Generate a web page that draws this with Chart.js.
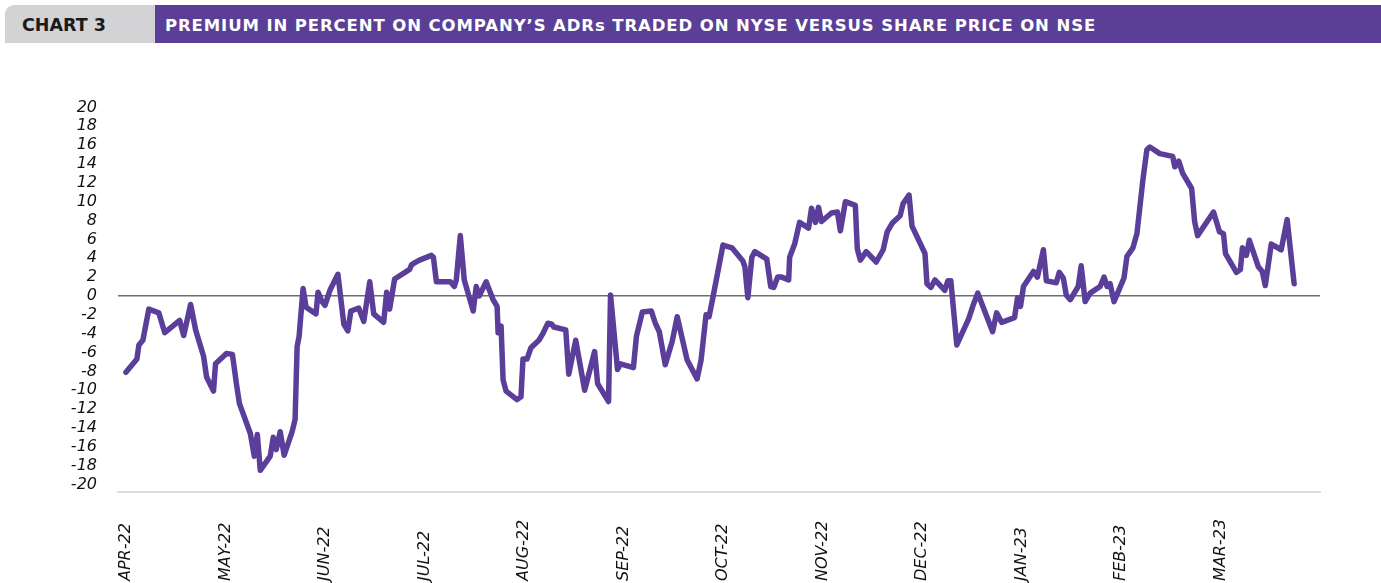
<!DOCTYPE html>
<html>
<head>
<meta charset="utf-8">
<script src="https://cdn.jsdelivr.net/npm/chart.js@4"></script>
<style>
  body { margin: 0; background: #fff; width: 1381px; height: 583px; overflow: hidden; position: relative; }
  .tag {
    position: absolute; left: 5px; top: 5px; width: 150px; height: 38px;
    background: #d3d3d5; border-top-left-radius: 9px;
    font: bold 17.5px "DejaVu Sans", sans-serif; color: #1a1a1a;
    line-height: 41px; box-sizing: border-box; padding-left: 17px;
  }
  .title {
    position: absolute; left: 155px; top: 5px; right: 0; height: 38px;
    background: #5b3f97; color: #fff;
    font: bold 16.5px "DejaVu Sans", sans-serif; letter-spacing: 0.9px;
    line-height: 41px; box-sizing: border-box; padding-left: 10px; white-space: nowrap;
  }
  #chart { position: absolute; left: 0; top: 50px; }
</style>
</head>
<body>
<div class="tag">CHART 3</div>
<div class="title">PREMIUM IN PERCENT ON COMPANY’S ADRs TRADED ON NYSE VERSUS SHARE PRICE ON NSE</div>
<canvas id="chart" width="1381" height="533"></canvas>
<script>
// Monatslabels der x-Achse
const months = ['APR-22', 'MAY-22', 'JUN-22', 'JUL-22', 'AUG-22', 'SEP-22',
                'OCT-22', 'NOV-22', 'DEC-22', 'JAN-23', 'FEB-23', 'MAR-23'];

// Zeitpunkt in Monaten ab Anfang April 2022
const monthPos = [
    0.00, 0.11, 0.13, 0.17, 0.23, 0.33, 0.39, 0.54, 0.58, 0.65, 0.70, 0.78, 0.81, 0.88, 0.90,
    1.01, 1.07, 1.11, 1.14, 1.25, 1.29, 1.32, 1.35, 1.45, 1.48, 1.51, 1.55, 1.59, 1.67, 1.70,
    1.72, 1.74, 1.78, 1.81, 1.91, 1.93, 1.97, 2.00, 2.05, 2.13, 2.19, 2.23, 2.26, 2.34, 2.39,
    2.45, 2.49, 2.59, 2.62, 2.65, 2.70, 2.82, 2.85, 2.87, 2.90, 2.95, 3.07, 3.09, 3.12, 3.26,
    3.30, 3.32, 3.36, 3.40, 3.49, 3.52, 3.55, 3.62, 3.69, 3.73, 3.74, 3.77, 3.79, 3.82, 3.93,
    3.97, 3.99, 4.03, 4.07, 4.15, 4.19, 4.24, 4.28, 4.30, 4.42, 4.45, 4.52, 4.61, 4.71, 4.74,
    4.85, 4.87, 4.94, 4.97, 5.10, 5.13, 5.19, 5.28, 5.32, 5.36, 5.42, 5.49, 5.54, 5.59, 5.64,
    5.74, 5.78, 5.83, 5.86, 5.90, 6.00, 6.09, 6.20, 6.22, 6.25, 6.29, 6.32, 6.44, 6.48, 6.51,
    6.55, 6.59, 6.66, 6.67, 6.72, 6.77, 6.86, 6.89, 6.93, 6.96, 6.99, 7.09, 7.15, 7.18, 7.23,
    7.33, 7.35, 7.38, 7.44, 7.54, 7.61, 7.65, 7.70, 7.78, 7.81, 7.87, 7.90, 8.03, 8.05, 8.09,
    8.13, 8.23, 8.26, 8.29, 8.35, 8.47, 8.51, 8.56, 8.71, 8.75, 8.80, 8.93, 8.96, 8.99, 9.02,
    9.12, 9.16, 9.22, 9.25, 9.35, 9.38, 9.42, 9.45, 9.49, 9.57, 9.60, 9.64, 9.69, 9.79, 9.83,
    9.86, 9.89, 9.93, 10.03, 10.06, 10.12, 10.16, 10.22, 10.26, 10.29, 10.39, 10.52, 10.54, 10.58, 10.62,
    10.71, 10.74, 10.77, 10.93, 10.99, 11.03, 11.05, 11.16, 11.20, 11.22, 11.26, 11.29, 11.38, 11.42, 11.45,
    11.51, 11.61, 11.67, 11.74
];

// Prämie in Prozent
const premium = [
    -8.1, -6.7, -5.2, -4.7, -1.4, -1.8, -3.9, -2.6, -4.2, -0.9, -3.6, -6.4, -8.6, -10.1, -7.2,
    -6.1, -6.2, -9.3, -11.4, -14.6, -17.0, -14.7, -18.5, -17.0, -15.0, -16.3, -14.4, -16.9, -14.4, -13.1,
    -5.4, -4.3, 0.8, -1.2, -1.9, 0.4, -0.6, -1.0, 0.6, 2.3, -3.0, -3.7, -1.6, -1.3, -2.7,
    1.5, -1.9, -2.8, 0.4, -1.4, 1.8, 2.6, 2.8, 3.3, 3.5, 3.8, 4.3, 4.1, 1.5, 1.5,
    1.0, 1.7, 6.4, 1.7, -1.6, 1.0, 0.0, 1.5, -0.4, -1.1, -3.9, -3.2, -8.9, -10.1, -11.0,
    -10.7, -6.7, -6.7, -5.5, -4.7, -4.0, -2.9, -3.0, -3.3, -3.6, -8.3, -4.7, -10.0, -5.9, -9.3,
    -11.2, 0.1, -7.8, -7.2, -7.6, -4.3, -1.7, -1.6, -2.9, -3.8, -7.3, -4.8, -2.2, -4.5, -6.8,
    -8.8, -6.8, -2.0, -2.2, -0.1, 5.4, 5.1, 3.7, 3.1, -0.2, 4.1, 4.7, 3.9, 1.0, 0.9,
    2.0, 2.0, 1.7, 4.1, 5.5, 7.8, 7.2, 9.3, 7.8, 9.4, 7.9, 8.8, 8.9, 6.9, 10.0,
    9.6, 5.0, 3.8, 4.7, 3.6, 4.9, 6.8, 7.7, 8.5, 9.8, 10.7, 7.4, 4.5, 1.3, 0.9,
    1.7, 0.6, 1.6, 1.6, -5.2, -2.4, -1.1, 0.3, -3.8, -1.8, -2.8, -2.3, -0.2, -1.1, 1.0,
    2.6, 2.0, 4.9, 1.6, 1.4, 2.5, 1.9, 0.1, -0.4, 1.0, 3.2, -0.6, 0.3, 1.0, 2.0,
    1.0, 1.3, -0.6, 1.9, 4.2, 5.1, 6.6, 12.3, 15.5, 15.8, 15.1, 14.8, 13.7, 14.3, 13.0,
    11.4, 7.9, 6.4, 8.9, 6.8, 6.6, 4.5, 2.5, 2.8, 5.1, 4.3, 5.9, 3.1, 2.6, 1.1,
    5.5, 4.9, 8.1, 1.3
];

// Beschriftung der y-Achse
const yTickValues = [20, 18, 16, 14, 12, 10, 8, 6, 4, 2, 0, -2, -4, -6, -8, -10, -12, -14, -16, -18, -20];

const axisFont = { family: '"DejaVu Sans", sans-serif', size: 16, style: 'italic' };

// Monatsnamen senkrecht, unten bündig (wie im Original)
const monthLabels = {
    id: 'monthLabels',
    afterDraw(chart) {
        const { ctx, scales: { x } } = chart;
        ctx.save();
        ctx.font = 'italic 16px "DejaVu Sans", sans-serif';
        ctx.fillStyle = '#111';
        ctx.textAlign = 'left';
        ctx.textBaseline = 'middle';
        months.forEach((m, i) => {
            ctx.save();
            ctx.translate(x.getPixelForValue(i), chart.height - 2);
            ctx.rotate(-Math.PI / 2);
            ctx.fillText(m, 0, 0);
            ctx.restore();
        });
        ctx.restore();
    }
};

new Chart(document.getElementById('chart'), {
    type: 'line',
    data: {
        datasets: [{
            label: 'Premium (%)',
            data: monthPos.map((m, i) => ({ x: m, y: premium[i] })),
            borderColor: '#5a3e99',
            borderWidth: 5.5,
            borderJoinStyle: 'round',
            borderCapStyle: 'round',
            pointRadius: 0,
            tension: 0,
            fill: false
        }]
    },
    options: {
        responsive: false,
        animation: false,
        layout: { padding: { top: 52.7, right: 61, bottom: 0, left: 0 } },
        plugins: { legend: { display: false }, tooltip: { enabled: false } },
        scales: {
            x: {
                type: 'linear',
                min: -0.08,
                max: 12.0,
                grid: { display: false },
                border: { display: true, color: '#dcdcdc', width: 2 },
                ticks: { display: false },
                afterFit(scale) { scale.height = 91; }
            },
            y: {
                min: -20.8,
                max: 20.5,
                afterBuildTicks(scale) { scale.ticks = yTickValues.map(v => ({ value: v })); },
                afterFit(scale) { scale.width = 118; },
                grid: {
                    drawTicks: false,
                    color: ctx => (ctx.tick && ctx.tick.value === 0 ? '#6e6e6e' : 'rgba(0,0,0,0)'),
                    lineWidth: 1.5
                },
                border: { display: false },
                ticks: {
                    autoSkip: false,
                    padding: 21,
                    color: '#111',
                    font: axisFont
                }
            }
        }
    },
    plugins: [monthLabels]
});
</script>
</body>
</html>
